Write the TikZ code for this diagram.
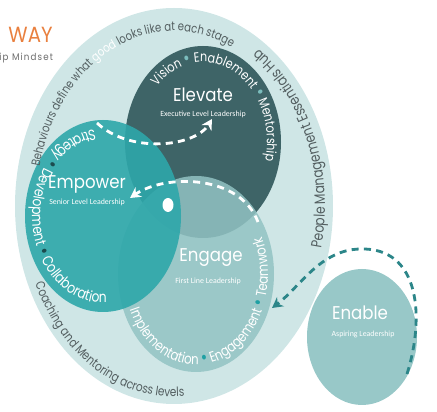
\documentclass[tikz,border=0pt]{standalone}
\usepackage{fontspec}
\setmainfont{Carlito}
\newfontfamily\ringfont{Poppins}[FakeStretch=0.82]
\newfontfamily\labelfont{Poppins}[FakeStretch=0.9]
\usetikzlibrary{decorations.text,arrows.meta}

\definecolor{ringbg}{HTML}{CFE6E6}
\definecolor{ringgray}{HTML}{535E60}
\definecolor{elevatecol}{HTML}{3E6467}
\definecolor{empowercol}{HTML}{2EA7AA}
\definecolor{engagecol}{HTML}{92C3C3}
\definecolor{enablecol}{HTML}{98C8C8}
\definecolor{dotlight}{HTML}{7BBDBD}
\definecolor{dotdark}{HTML}{1C4B4E}
\definecolor{dotteal}{HTML}{1FA0A3}
\definecolor{hubteal}{HTML}{2C8689}
\definecolor{wayorange}{HTML}{E9803F}
\definecolor{mindgray}{HTML}{6A6A6A}

\newcommand{\bigdot}{\fontsize{11}{11}\selectfont}

\begin{document}
\begin{tikzpicture}[x=0.02cm, y=0.02cm,
	bigname/.style={text=white, font=\labelfont\fontsize{10.5}{12}\selectfont},
	subname/.style={text=white, font=\fontsize{4.5}{5}\selectfont},
	flowarrow/.style={draw=white, line width=1.6pt, dash pattern=on 4pt off 3pt, -{Stealth[length=6pt,width=6.5pt]}},
	hubarrow/.style={draw=hubteal, line width=1.6pt, dash pattern=on 4pt off 3pt, -{Stealth[length=6pt,width=6.5pt]}},
	alongtext/.style 2 args={decorate, decoration={text along path, text color=#1, text={#2}, text align=left}}
	]
	\useasboundingbox (0,0) rectangle (437,412);
	
	% centres of the rings
	\coordinate (outer) at (174,206);
	\coordinate (elevate) at (203,270);
	\coordinate (empower) at (103,196);
	\coordinate (engage) at (196,138);
	\coordinate (enable) at (362,75);
	
	\fill[ringbg] (outer) ellipse [x radius=159, y radius=198];
	\fill[elevatecol] (elevate) ellipse [x radius=78, y radius=96];
	\fill[engagecol, fill opacity=0.85] (engage) ellipse [x radius=78, y radius=98];
	\fill[empowercol, fill opacity=0.9] (empower) ellipse [x radius=78, y radius=96];
	\fill[enablecol] (enable) ellipse [x radius=55, y radius=68];
	
	% heading
	\node[anchor=east, inner sep=0, text=wayorange, font=\labelfont\fontsize{12.5}{14}\selectfont] (way) at (53,377) {T\hspace{5pt}WAY};
	\node[anchor=west, inner sep=0, text=mindgray, font=\labelfont\fontsize{5.5}{6}\selectfont\addfontfeature{LetterSpace=12}] (mind) at (-1,354) {ip Mindset};
	
	% stage names
	\node[bigname] (elevatename) at (203,317) {Elevate};
	\node[subname] (elevatesub) at (203,298) {Executive Level Leadership};
	\node[bigname] (empowername) at (87,228) {Empower};
	\node[subname] (empowersub) at (87,210) {Senior Level Leadership};
	\node[bigname] (engagename) at (211,154) {Engage};
	\node[subname] (engagesub) at (208,131) {First Line Leadership};
	\node[bigname] (enablename) at (360,99) {Enable};
	\node[subname] (enablesub) at (363,78) {Aspiring Leadership};
	
	% texts round the outer ring
	\begin{scope}
		\ringfont\fontsize{7}{8}\selectfont
		\path[alongtext={ringgray}{Behaviours define what |\color{white}|good|| looks like at each stage}]
			(outer) ++(167:138 and 175) arc[start angle=167, end angle=40, x radius=138, y radius=175];
		\ringfont\fontsize{7.3}{8}\selectfont
		\path[alongtext={ringgray}{Coaching and Mentoring across levels}]
			(outer) ++(204:152 and 191) arc[start angle=204, end angle=300, x radius=152, y radius=191];
		\ringfont\fontsize{8.5}{9}\selectfont
		\path[alongtext={ringgray}{People Management Essentials Hub}]
			(outer) ++(-13:151 and 189) arc[start angle=-13, end angle=100, x radius=151, y radius=189];
	\end{scope}
	
	% texts round the stages
	\begin{scope}
		\ringfont\fontsize{7.7}{8}\selectfont
		\path[alongtext={white}{Vision |\color{dotlight}\bigdot|•|| Enablement |\color{dotlight}\bigdot|•|| Mentorship}]
			(elevate) ++(136:64 and 80) arc[start angle=136, end angle=-40, x radius=64, y radius=80];
		\ringfont\fontsize{8.5}{9}\selectfont
		\path[alongtext={white}{Strategy |\color{dotdark}\bigdot|•|| Development |\color{dotdark}\bigdot|•|| Collaboration}]
			(empower) ++(97:71 and 87) arc[start angle=97, end angle=290, x radius=71, y radius=87];
		\ringfont\fontsize{8.2}{9}\selectfont
		\path[alongtext={white}{Implementation |\color{dotteal}\bigdot|•|| Engagement |\color{dotteal}\bigdot|•|| Teamwork}]
			(engage) ++(203:72 and 91) arc[start angle=203, end angle=400, x radius=72, y radius=91];
	\end{scope}
	
	% arrows between the stages
	\coordinate (a1) at (97,289);
	\coordinate (a2) at (212,293);
	\draw[flowarrow] (a1) .. controls (130,258) and (195,265) .. (a2);
	\coordinate (b1) at (258,190);
	\coordinate (b2) at (130,214);
	\draw[flowarrow] (b1) .. controls (240,238) and (165,238) .. (b2);
	\coordinate (spot) at (168,207);
	\fill[white] (spot) ellipse [x radius=5.5, y radius=7];
	\coordinate (c1) at (407,38);
	\coordinate (c2) at (272,104);
	\draw[hubarrow] (c1) .. controls (425,95) and (420,165) .. (360,163) .. controls (320,162) and (300,125) .. (c2);
\end{tikzpicture}
\end{document}
